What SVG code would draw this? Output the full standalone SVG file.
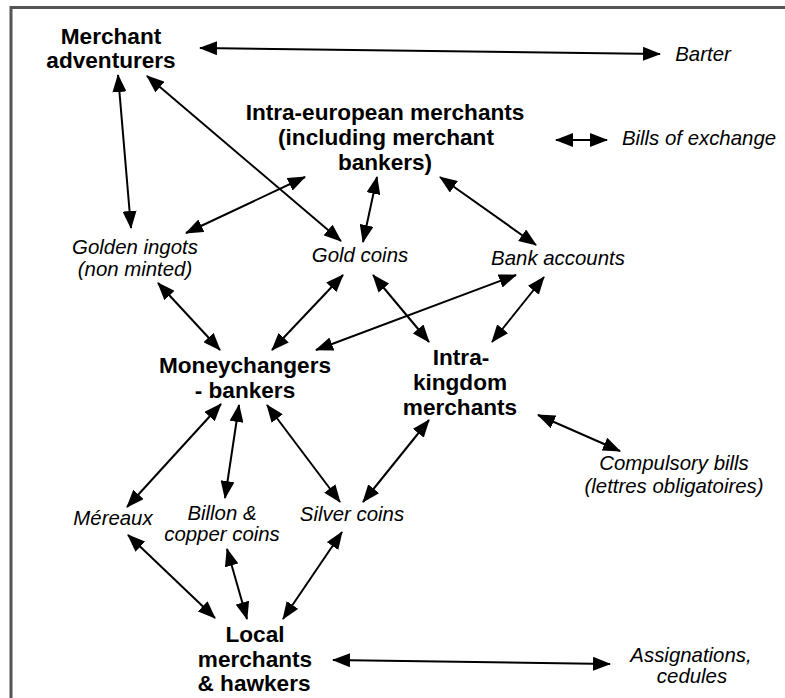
<svg xmlns="http://www.w3.org/2000/svg" width="785" height="698" viewBox="0 0 785 698">
<defs>
<marker id="ah" viewBox="0 0 18 14" refX="17" refY="7" markerWidth="18" markerHeight="14" markerUnits="userSpaceOnUse" orient="auto-start-reverse">
<path d="M0,0 L18,7 L0,14 z" fill="#000"/>
</marker>
<style>
.b{font-family:"Liberation Sans",Arial,sans-serif;font-weight:bold;font-size:22.6px;fill:#000;text-anchor:middle}
.i{font-family:"Liberation Sans",Arial,sans-serif;font-style:italic;font-size:20.4px;fill:#000;text-anchor:middle}
.c{stroke:#000;stroke-width:2;fill:none;marker-start:url(#ah);marker-end:url(#ah)}
</style>
</defs>
<rect x="0" y="0" width="785" height="698" fill="#fff"/>
<rect x="11" y="7.5" width="800" height="720" fill="none" stroke="#555" stroke-width="3"/>

<g id="connectors">
<line class="c" x1="200" y1="48" x2="660" y2="54"/>
<line class="c" x1="118" y1="75" x2="131" y2="228"/>
<line class="c" x1="147" y1="76" x2="341" y2="241"/>
<line class="c" x1="305" y1="177" x2="186" y2="233"/>
<line class="c" x1="377" y1="177" x2="363" y2="242"/>
<line class="c" x1="440" y1="177" x2="536" y2="245"/>
<line class="c" x1="158" y1="283" x2="220" y2="350"/>
<line class="c" x1="343" y1="275" x2="272" y2="350"/>
<line class="c" x1="516" y1="275" x2="316" y2="350"/>
<line class="c" x1="373" y1="275" x2="429" y2="342"/>
<line class="c" x1="544" y1="277" x2="492" y2="342"/>
<line class="c" x1="538" y1="415" x2="620" y2="451"/>
<line class="c" x1="221" y1="404" x2="127" y2="507"/>
<line class="c" x1="239" y1="405" x2="225" y2="498"/>
<line class="c" x1="267" y1="405" x2="340" y2="502"/>
<line class="c" x1="429" y1="420" x2="363" y2="502"/>
<line class="c" x1="128" y1="535" x2="215" y2="618"/>
<line class="c" x1="227" y1="549" x2="247" y2="619"/>
<line class="c" x1="342" y1="532" x2="283" y2="619"/>
<line class="c" x1="333" y1="660" x2="610" y2="664"/>
<line class="c" x1="556" y1="140" x2="607" y2="140"/>
</g>

<g id="merchant-adventurers"><text class="b" x="111" y="44">Merchant</text><text class="b" x="111" y="68">adventurers</text></g>
<g id="barter"><text class="i" x="703" y="61">Barter</text></g>
<g id="intra-european"><text class="b" x="385" y="120">Intra-european merchants</text><text class="b" x="386" y="145">(including merchant</text><text class="b" x="385" y="170">bankers)</text></g>
<g id="bills-of-exchange"><text class="i" x="699" y="145">Bills of exchange</text></g>
<g id="golden-ingots"><text class="i" x="135" y="254">Golden ingots</text><text class="i" x="135" y="276">(non minted)</text></g>
<g id="gold-coins"><text class="i" x="360" y="262">Gold coins</text></g>
<g id="bank-accounts"><text class="i" x="558" y="265">Bank accounts</text></g>
<g id="moneychangers"><text class="b" x="245" y="373">Moneychangers</text><text class="b" x="245" y="398">- bankers</text></g>
<g id="intra-kingdom"><text class="b" x="461" y="365">Intra-</text><text class="b" x="460" y="390">kingdom</text><text class="b" x="460" y="415">merchants</text></g>
<g id="compulsory-bills"><text class="i" x="674" y="470">Compulsory bills</text><text class="i" x="674" y="493">(lettres obligatoires)</text></g>
<g id="mereaux"><text class="i" x="113" y="525">Méreaux</text></g>
<g id="billon"><text class="i" x="222" y="520">Billon &amp;</text><text class="i" x="222" y="541">copper coins</text></g>
<g id="silver-coins"><text class="i" x="352" y="521">Silver coins</text></g>
<g id="local-merchants"><text class="b" x="255" y="642">Local</text><text class="b" x="255" y="667">merchants</text><text class="b" x="254" y="691">&amp; hawkers</text></g>
<g id="assignations"><text class="i" x="691" y="662">Assignations,</text><text class="i" x="692" y="683">cedules</text></g>
</svg>
